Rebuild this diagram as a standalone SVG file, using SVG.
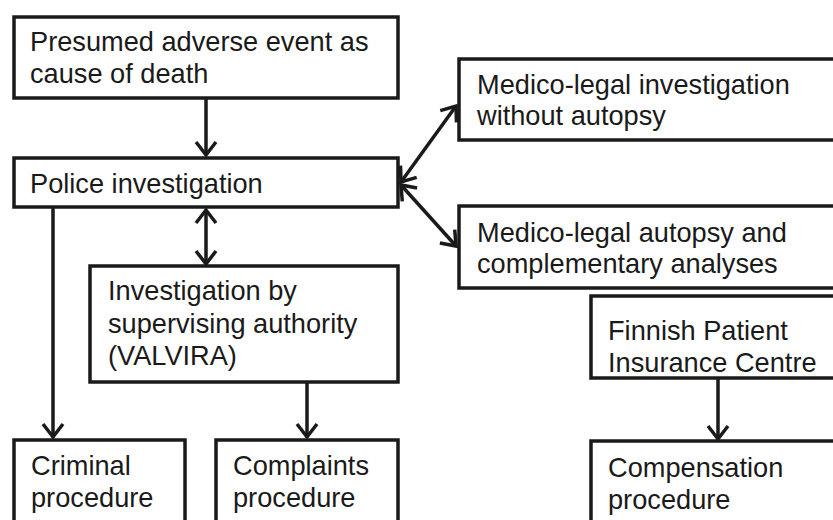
<svg xmlns="http://www.w3.org/2000/svg" width="833" height="520" viewBox="0 0 833 520">
<style>
.box{fill:#fff;stroke:#1a1a1a;stroke-width:3.5}
.t{font-family:"Liberation Sans",Arial,sans-serif;font-size:27.2px;fill:#1a1a1a}
.c{fill:none;stroke:#1a1a1a;stroke-width:3.5}
</style>
<defs>
<marker id="ah" markerUnits="userSpaceOnUse" markerWidth="20" markerHeight="26" viewBox="0 0 20 26" refX="16" refY="13" orient="auto-start-reverse">
<path d="M3,3 L16,13 L3,23" fill="none" stroke="#1a1a1a" stroke-width="3.5" stroke-linejoin="miter"/>
</marker>
</defs>
<rect width="833" height="520" fill="#fff"/>
<g id="connectors">
<line class="c" x1="206" y1="99" x2="206" y2="155" marker-end="url(#ah)"/>
<line class="c" x1="401" y1="182" x2="456" y2="106" marker-start="url(#ah)" marker-end="url(#ah)"/>
<line class="c" x1="401" y1="185" x2="456" y2="246" marker-start="url(#ah)" marker-end="url(#ah)"/>
<line class="c" x1="206" y1="210" x2="206" y2="264" marker-start="url(#ah)" marker-end="url(#ah)"/>
<line class="c" x1="53" y1="208" x2="53" y2="437" marker-end="url(#ah)"/>
<line class="c" x1="307" y1="382" x2="307" y2="437" marker-end="url(#ah)"/>
<line class="c" x1="718" y1="378" x2="718" y2="439" marker-end="url(#ah)"/>
</g>
<g id="n-presumed">
<rect class="box" x="14" y="17" width="384" height="81"/>
<text class="t" x="30" y="51">Presumed adverse event as</text>
<text class="t" x="30" y="83">cause of death</text>
</g>
<g id="n-police">
<rect class="box" x="14" y="158" width="384" height="49"/>
<text class="t" x="30" y="193">Police investigation</text>
</g>
<g id="n-mli">
<rect class="box" x="459" y="59" width="390" height="81"/>
<text class="t" x="477" y="94">Medico-legal investigation</text>
<text class="t" x="477" y="125">without autopsy</text>
</g>
<g id="n-mla">
<rect class="box" x="459" y="206" width="390" height="82"/>
<text class="t" x="477" y="242">Medico-legal autopsy and</text>
<text class="t" x="477" y="273">complementary analyses</text>
</g>
<g id="n-valvira">
<rect class="box" x="90" y="266" width="308" height="116"/>
<text class="t" x="108" y="300">Investigation by</text>
<text class="t" x="108" y="333">supervising authority</text>
<text class="t" x="108" y="365">(VALVIRA)</text>
</g>
<g id="n-finnish">
<rect class="box" x="591" y="296" width="260" height="82"/>
<text class="t" x="608" y="340">Finnish Patient</text>
<text class="t" x="608" y="372">Insurance Centre</text>
</g>
<g id="n-criminal">
<rect class="box" x="14" y="440" width="171" height="100"/>
<text class="t" x="31" y="475">Criminal</text>
<text class="t" x="31" y="507">procedure</text>
</g>
<g id="n-complaints">
<rect class="box" x="216" y="440" width="182" height="100"/>
<text class="t" x="233" y="475">Complaints</text>
<text class="t" x="233" y="507">procedure</text>
</g>
<g id="n-compensation">
<rect class="box" x="591" y="441" width="260" height="100"/>
<text class="t" x="608" y="477">Compensation</text>
<text class="t" x="608" y="509">procedure</text>
</g>
</svg>
